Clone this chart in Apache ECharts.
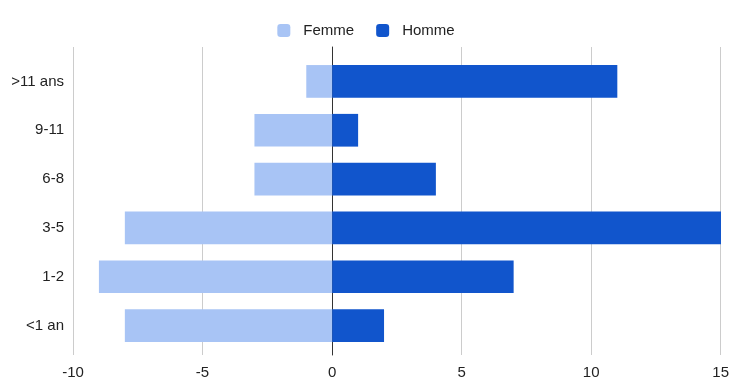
<!DOCTYPE html>
<html><head><meta charset="utf-8">
<script src="https://cdn.jsdelivr.net/npm/echarts@6/dist/echarts.min.js"></script>
<style>html,body{margin:0;padding:0;background:#fff}#c{width:732px;height:380px}</style>
</head><body><div id="c"></div>
<script>
const categories = ['<1 an', '1-2', '3-5', '6-8', '9-11', '>11 ans'];
const femme = [-8, -9, -8, -3, -3, -1];
const homme = [2, 7, 15, 4, 1, 11];
const xTicks = {min: -10, max: 15, interval: 5};

const chart = echarts.init(document.getElementById('c'));
chart.setOption({
  animation: false,
  textStyle: {fontFamily: 'Liberation Sans, Arial, sans-serif'},
  legend: {
    top: 18, left: 'center', itemWidth: 13, itemHeight: 13, itemGap: 22,
    icon: 'roundRect',
    textStyle: {fontSize: 15, color: '#222', padding: [0, 0, 0, 8]},
    data: ['Femme', 'Homme']
  },
  grid: [
    {left: 73, right: 11, top: 57, bottom: 30},
    {left: 73, right: 11, top: 47, bottom: 20}
  ],
  xAxis: [
    {
      gridIndex: 0, type: 'value', min: xTicks.min, max: xTicks.max, interval: xTicks.interval,
      axisLine: {show: false}, axisTick: {show: false}, axisLabel: {show: false},
      splitLine: {show: false}
    },
    {
      gridIndex: 1, type: 'value', min: xTicks.min, max: xTicks.max, interval: xTicks.interval,
      axisLine: {show: false}, axisTick: {show: false},
      axisLabel: {fontSize: 15, color: '#222', margin: 10},
      splitLine: {lineStyle: {color: '#cccccc', width: 1}}
    }
  ],
  yAxis: [
    {
      gridIndex: 0, type: 'category', data: categories, position: 'left',
      axisLine: {show: false, onZero: false}, axisTick: {show: false},
      axisLabel: {fontSize: 15, color: '#222', margin: 9}
    },
    {
      gridIndex: 1, type: 'category', data: categories, position: 'left',
      axisLine: {show: true, onZero: true, lineStyle: {color: '#333', width: 1}},
      axisTick: {show: false}, axisLabel: {show: false}, splitLine: {show: false}
    }
  ],
  series: [
    {name: 'Femme', type: 'bar', stack: 'g', data: femme, barWidth: '67%',
     xAxisIndex: 0, yAxisIndex: 0, z: 1, itemStyle: {color: '#a8c4f5'}},
    {name: 'Homme', type: 'bar', stack: 'g', data: homme, barWidth: '67%',
     xAxisIndex: 0, yAxisIndex: 0, z: 1, itemStyle: {color: '#1155cc'}}
  ]
});
</script></body></html>
